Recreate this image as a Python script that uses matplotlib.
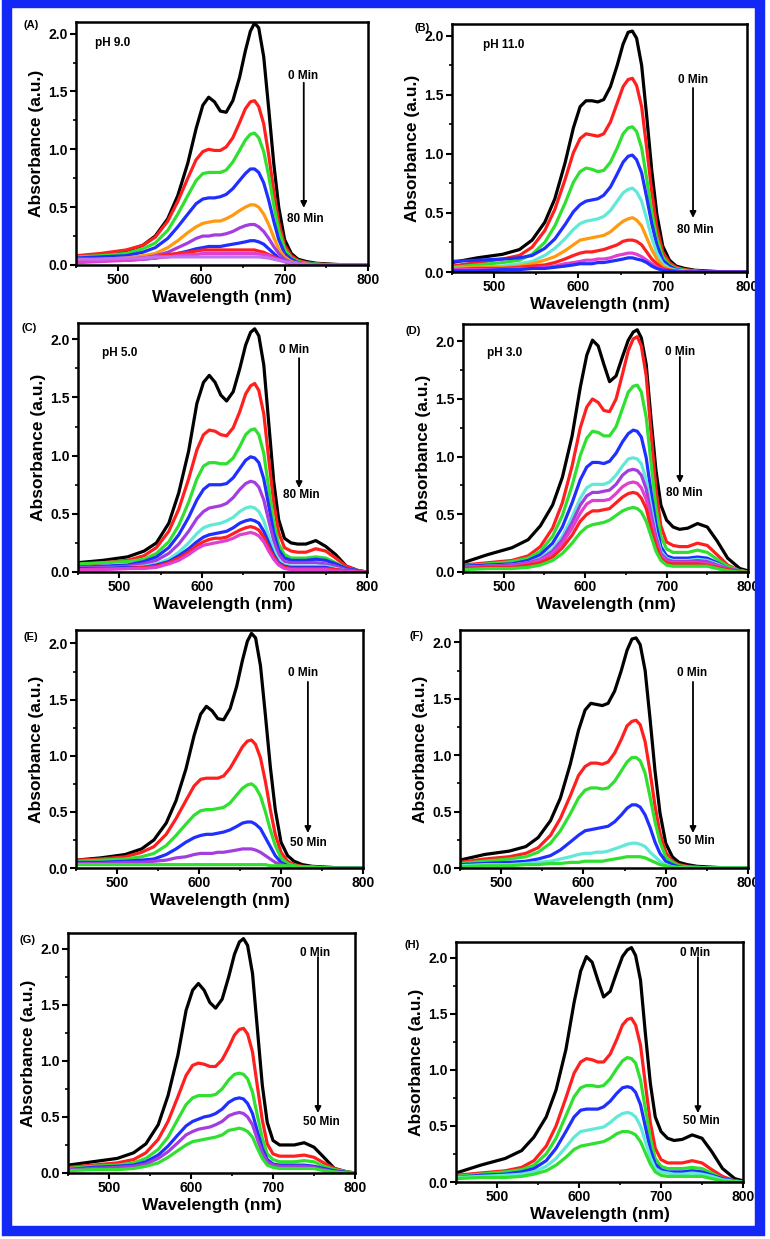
import matplotlib
matplotlib.use("Agg")
import matplotlib.pyplot as plt
from matplotlib.patches import Rectangle
from matplotlib.ticker import MultipleLocator, FormatStrFormatter

plt.rcParams['font.family'] = ['Liberation Sans', 'DejaVu Sans']
plt.rcParams['font.weight'] = 'bold'

# ---------------- data ----------------
WL = [450, 480, 510, 530, 545, 560, 572, 584, 594, 602, 609, 616, 623, 630, 638, 646, 653,
      659, 664, 669, 675, 681, 687, 693, 700, 708, 716, 726, 738, 750, 762, 775, 790, 800]

# Panel A (pH 9.0)
A_black = [0.07, 0.09, 0.12, 0.17, 0.25, 0.40, 0.60, 0.88, 1.18, 1.38, 1.45, 1.41, 1.33, 1.32, 1.42, 1.62, 1.85, 2.02, 2.09, 2.05, 1.80, 1.35, 0.88, 0.50, 0.22, 0.10, 0.05, 0.03, 0.015, 0.01, 0.005, 0.0, 0.0, 0.0]
A_red = [0.08, 0.10, 0.13, 0.17, 0.24, 0.38, 0.55, 0.75, 0.91, 0.98, 1.00, 0.99, 0.99, 1.02, 1.10, 1.23, 1.35, 1.41, 1.42, 1.37, 1.22, 0.95, 0.64, 0.37, 0.17, 0.08, 0.04, 0.02, 0.01, 0.005, 0.0, 0.0, 0.0, 0.0]
A_green = [0.07, 0.08, 0.10, 0.14, 0.19, 0.30, 0.44, 0.60, 0.73, 0.79, 0.80, 0.80, 0.80, 0.82, 0.89, 0.99, 1.08, 1.13, 1.14, 1.10, 0.98, 0.77, 0.52, 0.30, 0.14, 0.06, 0.03, 0.015, 0.01, 0.0, 0.0, 0.0, 0.0, 0.0]
A_blue = [0.06, 0.07, 0.08, 0.11, 0.15, 0.23, 0.33, 0.44, 0.53, 0.57, 0.58, 0.58, 0.59, 0.61, 0.66, 0.73, 0.79, 0.83, 0.83, 0.80, 0.71, 0.56, 0.38, 0.22, 0.10, 0.05, 0.02, 0.01, 0.005, 0.0, 0.0, 0.0, 0.0, 0.0]
A_orange = [0.04, 0.05, 0.06, 0.08, 0.10, 0.15, 0.21, 0.28, 0.33, 0.36, 0.37, 0.38, 0.38, 0.40, 0.43, 0.47, 0.50, 0.52, 0.52, 0.50, 0.44, 0.35, 0.24, 0.14, 0.07, 0.03, 0.015, 0.01, 0.0, 0.0, 0.0, 0.0, 0.0, 0.0]
A_purple = [0.04, 0.04, 0.05, 0.06, 0.08, 0.11, 0.15, 0.19, 0.23, 0.25, 0.25, 0.26, 0.26, 0.27, 0.29, 0.32, 0.34, 0.35, 0.35, 0.33, 0.29, 0.23, 0.16, 0.10, 0.05, 0.02, 0.01, 0.0, 0.0, 0.0, 0.0, 0.0, 0.0, 0.0]
A_blue2 = [0.03, 0.04, 0.04, 0.05, 0.06, 0.08, 0.10, 0.12, 0.14, 0.15, 0.16, 0.16, 0.16, 0.17, 0.18, 0.19, 0.20, 0.21, 0.21, 0.20, 0.18, 0.14, 0.10, 0.06, 0.03, 0.015, 0.01, 0.0, 0.0, 0.0, 0.0, 0.0, 0.0, 0.0]
A_red2 = [0.03, 0.04, 0.05, 0.06, 0.07, 0.09, 0.10, 0.11, 0.12, 0.13, 0.13, 0.13, 0.13, 0.13, 0.13, 0.13, 0.13, 0.13, 0.13, 0.12, 0.11, 0.09, 0.07, 0.05, 0.03, 0.015, 0.01, 0.0, 0.0, 0.0, 0.0, 0.0, 0.0, 0.0]
A_magenta = [0.02, 0.03, 0.04, 0.05, 0.06, 0.07, 0.08, 0.09, 0.09, 0.10, 0.10, 0.10, 0.10, 0.10, 0.10, 0.10, 0.10, 0.10, 0.10, 0.095, 0.09, 0.08, 0.06, 0.05, 0.03, 0.02, 0.01, 0.005, 0.0, 0.0, 0.0, 0.0, 0.0, 0.0]
A_violet = [0.05, 0.05, 0.06, 0.06, 0.07, 0.07, 0.07, 0.07, 0.07, 0.07, 0.07, 0.07, 0.07, 0.07, 0.07, 0.07, 0.07, 0.07, 0.07, 0.07, 0.065, 0.06, 0.05, 0.04, 0.03, 0.02, 0.01, 0.005, 0.0, 0.0, 0.0, 0.0, 0.0, 0.0]

# Panel B (pH 11.0)
B_black = [0.08, 0.12, 0.15, 0.19, 0.27, 0.42, 0.62, 0.92, 1.22, 1.40, 1.45, 1.45, 1.44, 1.46, 1.57, 1.75, 1.93, 2.03, 2.04, 1.98, 1.75, 1.32, 0.86, 0.49, 0.22, 0.10, 0.05, 0.03, 0.015, 0.01, 0.005, 0.0, 0.0, 0.0]
B_red = [0.05, 0.08, 0.11, 0.14, 0.21, 0.35, 0.53, 0.78, 1.01, 1.13, 1.17, 1.16, 1.15, 1.17, 1.27, 1.43, 1.57, 1.63, 1.64, 1.58, 1.40, 1.05, 0.68, 0.38, 0.17, 0.08, 0.04, 0.02, 0.01, 0.005, 0.0, 0.0, 0.0, 0.0]
B_green = [0.04, 0.06, 0.08, 0.10, 0.15, 0.25, 0.39, 0.58, 0.76, 0.85, 0.88, 0.87, 0.85, 0.86, 0.93, 1.05, 1.17, 1.22, 1.23, 1.19, 1.05, 0.79, 0.51, 0.29, 0.13, 0.06, 0.03, 0.015, 0.01, 0.0, 0.0, 0.0, 0.0, 0.0]
B_blue = [0.09, 0.10, 0.11, 0.12, 0.14, 0.20, 0.28, 0.40, 0.51, 0.57, 0.60, 0.61, 0.62, 0.65, 0.72, 0.83, 0.93, 0.98, 0.99, 0.95, 0.84, 0.63, 0.41, 0.23, 0.10, 0.05, 0.02, 0.01, 0.005, 0.0, 0.0, 0.0, 0.0, 0.0]
B_cyan = [0.03, 0.04, 0.05, 0.07, 0.09, 0.14, 0.20, 0.28, 0.36, 0.41, 0.43, 0.44, 0.45, 0.47, 0.52, 0.60, 0.67, 0.70, 0.71, 0.68, 0.60, 0.45, 0.29, 0.16, 0.07, 0.03, 0.015, 0.01, 0.0, 0.0, 0.0, 0.0, 0.0, 0.0]
B_orange = [0.03, 0.04, 0.04, 0.05, 0.07, 0.10, 0.13, 0.18, 0.23, 0.27, 0.28, 0.29, 0.30, 0.31, 0.34, 0.39, 0.43, 0.45, 0.46, 0.44, 0.39, 0.29, 0.19, 0.11, 0.05, 0.02, 0.01, 0.005, 0.0, 0.0, 0.0, 0.0, 0.0, 0.0]
B_red2 = [0.02, 0.03, 0.03, 0.04, 0.05, 0.06, 0.08, 0.11, 0.14, 0.16, 0.17, 0.17, 0.18, 0.19, 0.21, 0.23, 0.26, 0.27, 0.27, 0.26, 0.23, 0.17, 0.11, 0.07, 0.03, 0.015, 0.01, 0.0, 0.0, 0.0, 0.0, 0.0, 0.0, 0.0]
B_magenta = [0.02, 0.02, 0.02, 0.03, 0.03, 0.04, 0.05, 0.07, 0.08, 0.09, 0.10, 0.10, 0.11, 0.11, 0.12, 0.14, 0.15, 0.16, 0.16, 0.15, 0.13, 0.10, 0.07, 0.04, 0.02, 0.01, 0.005, 0.0, 0.0, 0.0, 0.0, 0.0, 0.0, 0.0]
B_blue2 = [0.01, 0.01, 0.02, 0.02, 0.03, 0.03, 0.04, 0.05, 0.06, 0.07, 0.07, 0.07, 0.08, 0.08, 0.09, 0.10, 0.11, 0.12, 0.12, 0.11, 0.10, 0.08, 0.05, 0.03, 0.015, 0.01, 0.0, 0.0, 0.0, 0.0, 0.0, 0.0, 0.0, 0.0]

# Panel C (pH 5.0)
C_black = [0.08, 0.10, 0.13, 0.18, 0.25, 0.42, 0.68, 1.04, 1.45, 1.63, 1.69, 1.63, 1.52, 1.47, 1.55, 1.75, 1.95, 2.06, 2.09, 2.03, 1.78, 1.28, 0.78, 0.45, 0.29, 0.25, 0.24, 0.24, 0.27, 0.22, 0.15, 0.05, 0.01, 0.0]
C_red = [0.06, 0.08, 0.10, 0.14, 0.21, 0.35, 0.54, 0.80, 1.05, 1.18, 1.22, 1.21, 1.18, 1.17, 1.24, 1.38, 1.53, 1.60, 1.62, 1.56, 1.36, 0.97, 0.60, 0.34, 0.21, 0.18, 0.17, 0.17, 0.20, 0.18, 0.12, 0.05, 0.01, 0.0]
C_green = [0.07, 0.08, 0.09, 0.11, 0.16, 0.26, 0.40, 0.60, 0.80, 0.91, 0.94, 0.94, 0.93, 0.93, 0.98, 1.08, 1.18, 1.22, 1.23, 1.18, 1.02, 0.72, 0.43, 0.24, 0.15, 0.12, 0.12, 0.12, 0.13, 0.12, 0.08, 0.03, 0.01, 0.0]
C_blue = [0.04, 0.05, 0.06, 0.09, 0.13, 0.21, 0.32, 0.47, 0.62, 0.71, 0.75, 0.75, 0.75, 0.76, 0.81, 0.89, 0.96, 0.99, 0.98, 0.94, 0.80, 0.57, 0.34, 0.19, 0.12, 0.10, 0.10, 0.10, 0.11, 0.10, 0.07, 0.03, 0.01, 0.0]
C_purple = [0.04, 0.04, 0.05, 0.07, 0.10, 0.16, 0.24, 0.35, 0.46, 0.52, 0.55, 0.56, 0.57, 0.59, 0.64, 0.71, 0.76, 0.78, 0.77, 0.73, 0.62, 0.44, 0.27, 0.15, 0.09, 0.08, 0.08, 0.08, 0.08, 0.07, 0.05, 0.02, 0.005, 0.0]
C_cyan = [0.03, 0.03, 0.04, 0.05, 0.07, 0.11, 0.17, 0.25, 0.33, 0.38, 0.40, 0.41, 0.42, 0.44, 0.47, 0.52, 0.55, 0.56, 0.55, 0.52, 0.44, 0.31, 0.19, 0.10, 0.06, 0.05, 0.05, 0.05, 0.05, 0.05, 0.03, 0.01, 0.0, 0.0]
C_blue2 = [0.03, 0.03, 0.04, 0.04, 0.06, 0.09, 0.14, 0.20, 0.26, 0.30, 0.32, 0.33, 0.34, 0.35, 0.38, 0.42, 0.44, 0.45, 0.44, 0.42, 0.35, 0.25, 0.15, 0.08, 0.05, 0.04, 0.04, 0.04, 0.04, 0.04, 0.02, 0.01, 0.0, 0.0]
C_red2 = [0.02, 0.03, 0.03, 0.04, 0.05, 0.08, 0.12, 0.17, 0.23, 0.26, 0.28, 0.29, 0.29, 0.30, 0.33, 0.36, 0.38, 0.39, 0.38, 0.36, 0.30, 0.21, 0.13, 0.07, 0.04, 0.03, 0.03, 0.03, 0.03, 0.03, 0.02, 0.01, 0.0, 0.0]
C_magenta = [0.02, 0.02, 0.03, 0.03, 0.04, 0.07, 0.10, 0.15, 0.20, 0.23, 0.24, 0.25, 0.26, 0.27, 0.29, 0.32, 0.33, 0.34, 0.33, 0.31, 0.26, 0.18, 0.11, 0.06, 0.03, 0.02, 0.02, 0.02, 0.02, 0.02, 0.01, 0.005, 0.0, 0.0]

# Panel D (pH 3.0)
D_black = [0.08, 0.15, 0.21, 0.28, 0.40, 0.58, 0.82, 1.18, 1.60, 1.88, 2.01, 1.96, 1.80, 1.65, 1.70, 1.87, 2.01, 2.08, 2.10, 2.03, 1.80, 1.32, 0.88, 0.58, 0.45, 0.39, 0.37, 0.38, 0.42, 0.39, 0.27, 0.12, 0.03, 0.01]
D_red = [0.06, 0.08, 0.10, 0.14, 0.22, 0.38, 0.60, 0.92, 1.25, 1.43, 1.50, 1.47, 1.40, 1.39, 1.50, 1.72, 1.92, 2.02, 2.04, 1.96, 1.70, 1.20, 0.72, 0.40, 0.26, 0.23, 0.22, 0.22, 0.25, 0.23, 0.15, 0.06, 0.01, 0.0]
D_green = [0.05, 0.07, 0.09, 0.12, 0.18, 0.31, 0.49, 0.75, 1.01, 1.16, 1.22, 1.21, 1.18, 1.18, 1.26, 1.42, 1.56, 1.61, 1.62, 1.56, 1.34, 0.94, 0.56, 0.31, 0.20, 0.17, 0.17, 0.17, 0.19, 0.17, 0.11, 0.05, 0.01, 0.0]
D_blue = [0.05, 0.06, 0.07, 0.10, 0.15, 0.25, 0.39, 0.60, 0.80, 0.91, 0.95, 0.95, 0.94, 0.96, 1.03, 1.13, 1.20, 1.23, 1.22, 1.17, 0.99, 0.69, 0.41, 0.22, 0.14, 0.12, 0.12, 0.12, 0.13, 0.12, 0.08, 0.03, 0.01, 0.0]
D_cyan = [0.04, 0.05, 0.06, 0.08, 0.12, 0.20, 0.31, 0.48, 0.64, 0.73, 0.76, 0.76, 0.76, 0.78, 0.84, 0.92, 0.98, 0.99, 0.98, 0.94, 0.80, 0.56, 0.33, 0.18, 0.12, 0.10, 0.10, 0.10, 0.11, 0.10, 0.07, 0.03, 0.01, 0.0]
D_purple = [0.04, 0.05, 0.06, 0.08, 0.11, 0.18, 0.28, 0.43, 0.58, 0.66, 0.69, 0.69, 0.70, 0.71, 0.76, 0.84, 0.88, 0.89, 0.88, 0.84, 0.72, 0.50, 0.30, 0.16, 0.11, 0.09, 0.09, 0.09, 0.10, 0.09, 0.06, 0.03, 0.01, 0.0]
D_magenta = [0.03, 0.04, 0.05, 0.07, 0.10, 0.16, 0.25, 0.38, 0.51, 0.59, 0.62, 0.62, 0.62, 0.63, 0.68, 0.74, 0.77, 0.78, 0.77, 0.73, 0.63, 0.44, 0.26, 0.14, 0.09, 0.08, 0.08, 0.08, 0.08, 0.07, 0.05, 0.02, 0.005, 0.0]
D_red2 = [0.03, 0.04, 0.04, 0.06, 0.08, 0.13, 0.21, 0.32, 0.44, 0.50, 0.53, 0.53, 0.54, 0.55, 0.60, 0.65, 0.68, 0.69, 0.68, 0.64, 0.55, 0.38, 0.23, 0.12, 0.08, 0.07, 0.07, 0.07, 0.07, 0.06, 0.04, 0.02, 0.005, 0.0]
D_green2 = [0.02, 0.03, 0.03, 0.04, 0.06, 0.10, 0.16, 0.25, 0.34, 0.39, 0.41, 0.42, 0.43, 0.45, 0.49, 0.53, 0.55, 0.56, 0.55, 0.52, 0.44, 0.31, 0.18, 0.10, 0.06, 0.05, 0.05, 0.05, 0.05, 0.05, 0.03, 0.01, 0.0, 0.0]

# Panel E
E_black = [0.07, 0.09, 0.12, 0.17, 0.25, 0.40, 0.60, 0.88, 1.18, 1.37, 1.44, 1.40, 1.33, 1.32, 1.42, 1.62, 1.85, 2.02, 2.09, 2.05, 1.80, 1.36, 0.90, 0.52, 0.23, 0.11, 0.06, 0.03, 0.015, 0.01, 0.005, 0.0, 0.0, 0.0]
E_red = [0.07, 0.08, 0.10, 0.14, 0.19, 0.30, 0.44, 0.60, 0.73, 0.79, 0.80, 0.80, 0.80, 0.82, 0.89, 0.99, 1.08, 1.13, 1.14, 1.10, 0.98, 0.77, 0.52, 0.30, 0.14, 0.06, 0.03, 0.015, 0.01, 0.0, 0.0, 0.0, 0.0, 0.0]
E_green = [0.06, 0.07, 0.08, 0.10, 0.13, 0.20, 0.29, 0.39, 0.47, 0.51, 0.52, 0.52, 0.53, 0.54, 0.58, 0.65, 0.71, 0.74, 0.75, 0.72, 0.64, 0.50, 0.34, 0.20, 0.09, 0.04, 0.02, 0.01, 0.0, 0.0, 0.0, 0.0, 0.0, 0.0]
E_blue = [0.05, 0.05, 0.06, 0.07, 0.08, 0.12, 0.17, 0.23, 0.27, 0.29, 0.30, 0.30, 0.31, 0.32, 0.34, 0.37, 0.40, 0.41, 0.41, 0.39, 0.35, 0.27, 0.19, 0.11, 0.05, 0.02, 0.01, 0.0, 0.0, 0.0, 0.0, 0.0, 0.0, 0.0]
E_purple = [0.04, 0.04, 0.05, 0.05, 0.06, 0.07, 0.09, 0.10, 0.12, 0.13, 0.13, 0.13, 0.14, 0.14, 0.15, 0.16, 0.17, 0.17, 0.17, 0.16, 0.14, 0.11, 0.08, 0.05, 0.03, 0.015, 0.01, 0.0, 0.0, 0.0, 0.0, 0.0, 0.0, 0.0]
E_green2 = [0.03, 0.03, 0.03, 0.03, 0.03, 0.03, 0.03, 0.03, 0.03, 0.03, 0.03, 0.03, 0.03, 0.03, 0.03, 0.03, 0.03, 0.03, 0.03, 0.03, 0.03, 0.03, 0.02, 0.02, 0.02, 0.02, 0.015, 0.01, 0.01, 0.005, 0.0, 0.0, 0.0, 0.0]

# Panel F
F_black = [0.07, 0.12, 0.15, 0.19, 0.27, 0.42, 0.62, 0.92, 1.22, 1.40, 1.46, 1.45, 1.44, 1.46, 1.57, 1.75, 1.93, 2.03, 2.04, 1.98, 1.75, 1.32, 0.86, 0.49, 0.22, 0.10, 0.05, 0.03, 0.015, 0.01, 0.005, 0.0, 0.0, 0.0]
F_red = [0.05, 0.08, 0.10, 0.13, 0.18, 0.29, 0.44, 0.64, 0.82, 0.90, 0.93, 0.93, 0.92, 0.94, 1.02, 1.14, 1.26, 1.30, 1.31, 1.27, 1.12, 0.85, 0.55, 0.31, 0.14, 0.06, 0.03, 0.015, 0.01, 0.0, 0.0, 0.0, 0.0, 0.0]
F_green = [0.04, 0.06, 0.08, 0.10, 0.14, 0.22, 0.33, 0.48, 0.62, 0.69, 0.71, 0.71, 0.70, 0.71, 0.77, 0.86, 0.94, 0.98, 0.98, 0.95, 0.84, 0.63, 0.41, 0.23, 0.10, 0.05, 0.02, 0.01, 0.0, 0.0, 0.0, 0.0, 0.0, 0.0]
F_blue = [0.03, 0.04, 0.05, 0.06, 0.08, 0.11, 0.16, 0.23, 0.29, 0.33, 0.34, 0.35, 0.36, 0.37, 0.41, 0.47, 0.53, 0.56, 0.56, 0.54, 0.47, 0.36, 0.23, 0.13, 0.06, 0.03, 0.01, 0.0, 0.0, 0.0, 0.0, 0.0, 0.0, 0.0]
F_cyan = [0.02, 0.03, 0.03, 0.04, 0.05, 0.06, 0.08, 0.10, 0.12, 0.13, 0.13, 0.14, 0.14, 0.15, 0.17, 0.19, 0.21, 0.22, 0.22, 0.21, 0.19, 0.14, 0.10, 0.06, 0.03, 0.01, 0.005, 0.0, 0.0, 0.0, 0.0, 0.0, 0.0, 0.0]
F_green2 = [0.01, 0.02, 0.02, 0.03, 0.03, 0.04, 0.04, 0.05, 0.05, 0.06, 0.06, 0.06, 0.06, 0.07, 0.08, 0.09, 0.10, 0.10, 0.10, 0.10, 0.09, 0.07, 0.05, 0.03, 0.02, 0.01, 0.0, 0.0, 0.0, 0.0, 0.0, 0.0, 0.0, 0.0]

# Panel G
G_black = [0.07, 0.10, 0.13, 0.18, 0.26, 0.43, 0.69, 1.05, 1.45, 1.63, 1.69, 1.63, 1.52, 1.47, 1.55, 1.75, 1.95, 2.06, 2.09, 2.03, 1.78, 1.28, 0.78, 0.45, 0.29, 0.25, 0.25, 0.25, 0.27, 0.23, 0.14, 0.04, 0.01, 0.0]
G_red = [0.05, 0.07, 0.09, 0.12, 0.18, 0.30, 0.46, 0.68, 0.87, 0.96, 0.98, 0.97, 0.95, 0.95, 1.01, 1.12, 1.23, 1.28, 1.29, 1.24, 1.08, 0.77, 0.47, 0.26, 0.17, 0.15, 0.15, 0.15, 0.16, 0.14, 0.09, 0.04, 0.01, 0.0]
G_green = [0.04, 0.06, 0.07, 0.09, 0.13, 0.21, 0.32, 0.48, 0.61, 0.67, 0.69, 0.69, 0.69, 0.70, 0.75, 0.83, 0.88, 0.89, 0.88, 0.84, 0.72, 0.51, 0.31, 0.17, 0.12, 0.10, 0.10, 0.10, 0.11, 0.10, 0.06, 0.03, 0.01, 0.0]
G_blue = [0.03, 0.05, 0.06, 0.07, 0.10, 0.16, 0.24, 0.34, 0.42, 0.46, 0.48, 0.50, 0.51, 0.53, 0.57, 0.63, 0.66, 0.67, 0.66, 0.62, 0.53, 0.37, 0.22, 0.12, 0.08, 0.07, 0.07, 0.07, 0.07, 0.06, 0.04, 0.02, 0.005, 0.0]
G_purple = [0.03, 0.04, 0.05, 0.06, 0.08, 0.13, 0.19, 0.27, 0.34, 0.37, 0.39, 0.40, 0.41, 0.43, 0.46, 0.51, 0.53, 0.54, 0.53, 0.50, 0.43, 0.30, 0.18, 0.10, 0.07, 0.06, 0.06, 0.06, 0.06, 0.05, 0.03, 0.01, 0.0, 0.0]
G_green2 = [0.02, 0.03, 0.03, 0.04, 0.06, 0.09, 0.14, 0.20, 0.25, 0.28, 0.29, 0.30, 0.31, 0.32, 0.34, 0.38, 0.39, 0.40, 0.39, 0.37, 0.32, 0.22, 0.13, 0.07, 0.05, 0.04, 0.04, 0.04, 0.04, 0.04, 0.02, 0.01, 0.0, 0.0]

# Panel H
H_black = [0.08, 0.15, 0.21, 0.28, 0.40, 0.58, 0.82, 1.18, 1.60, 1.88, 2.01, 1.96, 1.80, 1.65, 1.70, 1.87, 2.01, 2.07, 2.09, 2.02, 1.80, 1.32, 0.88, 0.58, 0.45, 0.39, 0.37, 0.38, 0.42, 0.39, 0.27, 0.12, 0.03, 0.01]
H_red = [0.06, 0.08, 0.10, 0.13, 0.19, 0.32, 0.50, 0.75, 0.97, 1.07, 1.10, 1.09, 1.07, 1.07, 1.14, 1.27, 1.40, 1.45, 1.46, 1.40, 1.22, 0.87, 0.53, 0.30, 0.20, 0.17, 0.17, 0.17, 0.19, 0.17, 0.11, 0.05, 0.01, 0.0]
H_green = [0.05, 0.07, 0.09, 0.11, 0.15, 0.25, 0.39, 0.59, 0.76, 0.84, 0.86, 0.86, 0.85, 0.86, 0.92, 1.01, 1.08, 1.11, 1.10, 1.06, 0.91, 0.65, 0.39, 0.21, 0.14, 0.12, 0.12, 0.12, 0.13, 0.12, 0.08, 0.03, 0.01, 0.0]
H_blue = [0.04, 0.06, 0.07, 0.09, 0.12, 0.19, 0.30, 0.45, 0.58, 0.64, 0.65, 0.65, 0.65, 0.67, 0.72, 0.79, 0.84, 0.85, 0.84, 0.80, 0.69, 0.49, 0.29, 0.16, 0.11, 0.09, 0.09, 0.09, 0.10, 0.09, 0.06, 0.03, 0.01, 0.0]
H_cyan = [0.04, 0.05, 0.06, 0.07, 0.09, 0.14, 0.21, 0.31, 0.40, 0.45, 0.46, 0.47, 0.48, 0.49, 0.53, 0.58, 0.61, 0.62, 0.61, 0.58, 0.50, 0.36, 0.22, 0.12, 0.09, 0.08, 0.07, 0.07, 0.08, 0.07, 0.05, 0.02, 0.005, 0.0]
H_green2 = [0.03, 0.04, 0.04, 0.05, 0.07, 0.10, 0.15, 0.22, 0.29, 0.32, 0.33, 0.34, 0.35, 0.36, 0.39, 0.43, 0.45, 0.45, 0.44, 0.42, 0.36, 0.26, 0.16, 0.09, 0.06, 0.05, 0.05, 0.05, 0.05, 0.05, 0.03, 0.01, 0.0, 0.0]

PANEL_LABELS = ["(A)", "(B)", "(C)", "(D)", "(E)", "(F)", "(G)", "(H)"]
PH_LABELS = ["pH 9.0", "pH 11.0", "pH 5.0", "pH 3.0", None, None, None, None]
START_LABEL = "0 Min"
END_LABELS = ["80 Min", "80 Min", "80 Min", "80 Min", "50 Min", "50 Min", "50 Min", "50 Min"]
X_TICKS = [500, 600, 700, 800]
Y_TICKS = [0.0, 0.5, 1.0, 1.5, 2.0]
XLABEL = "Wavelength (nm)"
YLABEL = "Absorbance (a.u.)"

# ---------------- styles ----------------
K = "#000000"; R = "#ff1f1f"; G = "#30e030"; Bl = "#1f2fff"; O = "#ff9a10"
P = "#a43de0"; Cy = "#60e8d8"; M = "#e040d0"; V = "#c070f0"

series = [
    [(A_black, K), (A_red, R), (A_green, G), (A_blue, Bl), (A_orange, O), (A_purple, P),
     (A_blue2, Bl), (A_red2, R), (A_magenta, M), (A_violet, V)],
    [(B_black, K), (B_red, R), (B_green, G), (B_blue, Bl), (B_cyan, Cy), (B_orange, O),
     (B_red2, R), (B_magenta, M), (B_blue2, Bl)],
    [(C_black, K), (C_red, R), (C_green, G), (C_blue, Bl), (C_purple, P), (C_cyan, Cy),
     (C_blue2, Bl), (C_red2, R), (C_magenta, M)],
    [(D_black, K), (D_red, R), (D_green, G), (D_blue, Bl), (D_cyan, Cy), (D_purple, P),
     (D_magenta, M), (D_red2, R), (D_green2, G)],
    [(E_black, K), (E_red, R), (E_green, G), (E_blue, Bl), (E_purple, P), (E_green2, G)],
    [(F_black, K), (F_red, R), (F_green, G), (F_blue, Bl), (F_cyan, Cy), (F_green2, G)],
    [(G_black, K), (G_red, R), (G_green, G), (G_blue, Bl), (G_purple, P), (G_green2, G)],
    [(H_black, K), (H_red, R), (H_green, G), (H_blue, Bl), (H_cyan, Cy), (H_green2, G)],
]

W, H = 770, 1239
# axes box in pixels: left, top, right, bottom
boxes = [(76, 22, 368, 265), (452, 24, 747, 272),
         (78, 323, 367, 572), (463, 324, 748, 572),
         (76, 630, 363, 868), (460, 630, 748, 868),
         (68, 933, 355, 1173), (456, 942, 743, 1182)]
ytops = [2.1, 2.1, 2.14, 2.15, 2.12, 2.11, 2.14, 2.14]
label_pos = [(31, 25), (422, 28), (29, 328), (413, 331), (31, 637), (417, 636), (28, 940), (412, 945)]
ph_pos = [(0.065, 0.914), (0.105, 0.915), (0.083, 0.88), (0.084, 0.883)]
ann = [((0.726, 0.778), 0.78, 0.75, 0.235, (0.723, 0.189)),
       ((0.766, 0.774), 0.817, 0.742, 0.218, (0.763, 0.17)),
       ((0.696, 0.892), 0.765, 0.859, 0.337, (0.71, 0.309)),
       ((0.709, 0.887), 0.761, 0.867, 0.359, (0.712, 0.319)),
       ((0.739, 0.819), 0.808, 0.782, 0.147, (0.746, 0.105)),
       ((0.753, 0.819), 0.809, 0.782, 0.147, (0.757, 0.113)),
       ((0.808, 0.917), 0.871, 0.90, 0.25, (0.819, 0.212)),
       ((0.78, 0.954), 0.843, 0.937, 0.287, (0.791, 0.254))]

fig = plt.figure(figsize=(W / 100, H / 100), dpi=100)
fig.patch.set_facecolor("white")

for i in range(8):
    l, t, r, b = boxes[i]
    ax = fig.add_axes([l / W, 1 - b / H, (r - l) / W, (b - t) / H])
    for ys, c in series[i]:
        ax.plot(WL, ys, color=c, lw=2.3, solid_joinstyle='round', solid_capstyle='round')
    ax.set_xlim(450, 800)
    ax.set_ylim(0, ytops[i])
    ax.set_xticks(X_TICKS)
    ax.set_yticks(Y_TICKS)
    ax.xaxis.set_minor_locator(MultipleLocator(50))
    ax.yaxis.set_minor_locator(MultipleLocator(0.25))
    ax.yaxis.set_major_formatter(FormatStrFormatter('%.1f'))
    ax.tick_params(which='major', direction='out', length=4, width=1.5, labelsize=10, pad=2)
    ax.tick_params(which='minor', direction='out', length=2.5, width=1.2)
    for lab in ax.get_xticklabels() + ax.get_yticklabels():
        lab.set_fontweight('bold')
    for s in ax.spines.values():
        s.set_linewidth(1.8)
    ax.set_xlabel(XLABEL, fontsize=12.5, fontweight='bold', labelpad=2)
    ax.set_ylabel(YLABEL, fontsize=12.5, fontweight='bold', labelpad=3)
    if PH_LABELS[i]:
        ax.text(ph_pos[i][0], ph_pos[i][1], PH_LABELS[i], transform=ax.transAxes,
                fontsize=8.5, fontweight='bold', ha='left', va='center')
    (t0x, t0y), axx, ay0, ay1, (t1x, t1y) = ann[i]
    ax.text(t0x, t0y, START_LABEL, transform=ax.transAxes, fontsize=8.5,
            fontweight='bold', ha='left', va='center')
    ax.text(t1x, t1y, END_LABELS[i], transform=ax.transAxes, fontsize=8.5,
            fontweight='bold', ha='left', va='center')
    ax.annotate("", xy=(axx, ay1), xytext=(axx, ay0), xycoords='axes fraction',
                arrowprops=dict(arrowstyle='-|>', color='black', lw=1.3,
                                mutation_scale=9, shrinkA=0, shrinkB=0))
    fig.text(label_pos[i][0] / W, 1 - label_pos[i][1] / H, PANEL_LABELS[i],
             fontsize=8, fontweight='bold', ha='center', va='center')

# blue frame
fig.patches.append(Rectangle((7 / W, 1 - 1231 / H), (760 - 7) / W, (1231 - 3) / H,
                             transform=fig.transFigure, fill=False,
                             edgecolor='#1428f5', lw=7.5, zorder=10))

fig.savefig("out.png", dpi=100, facecolor="white")
